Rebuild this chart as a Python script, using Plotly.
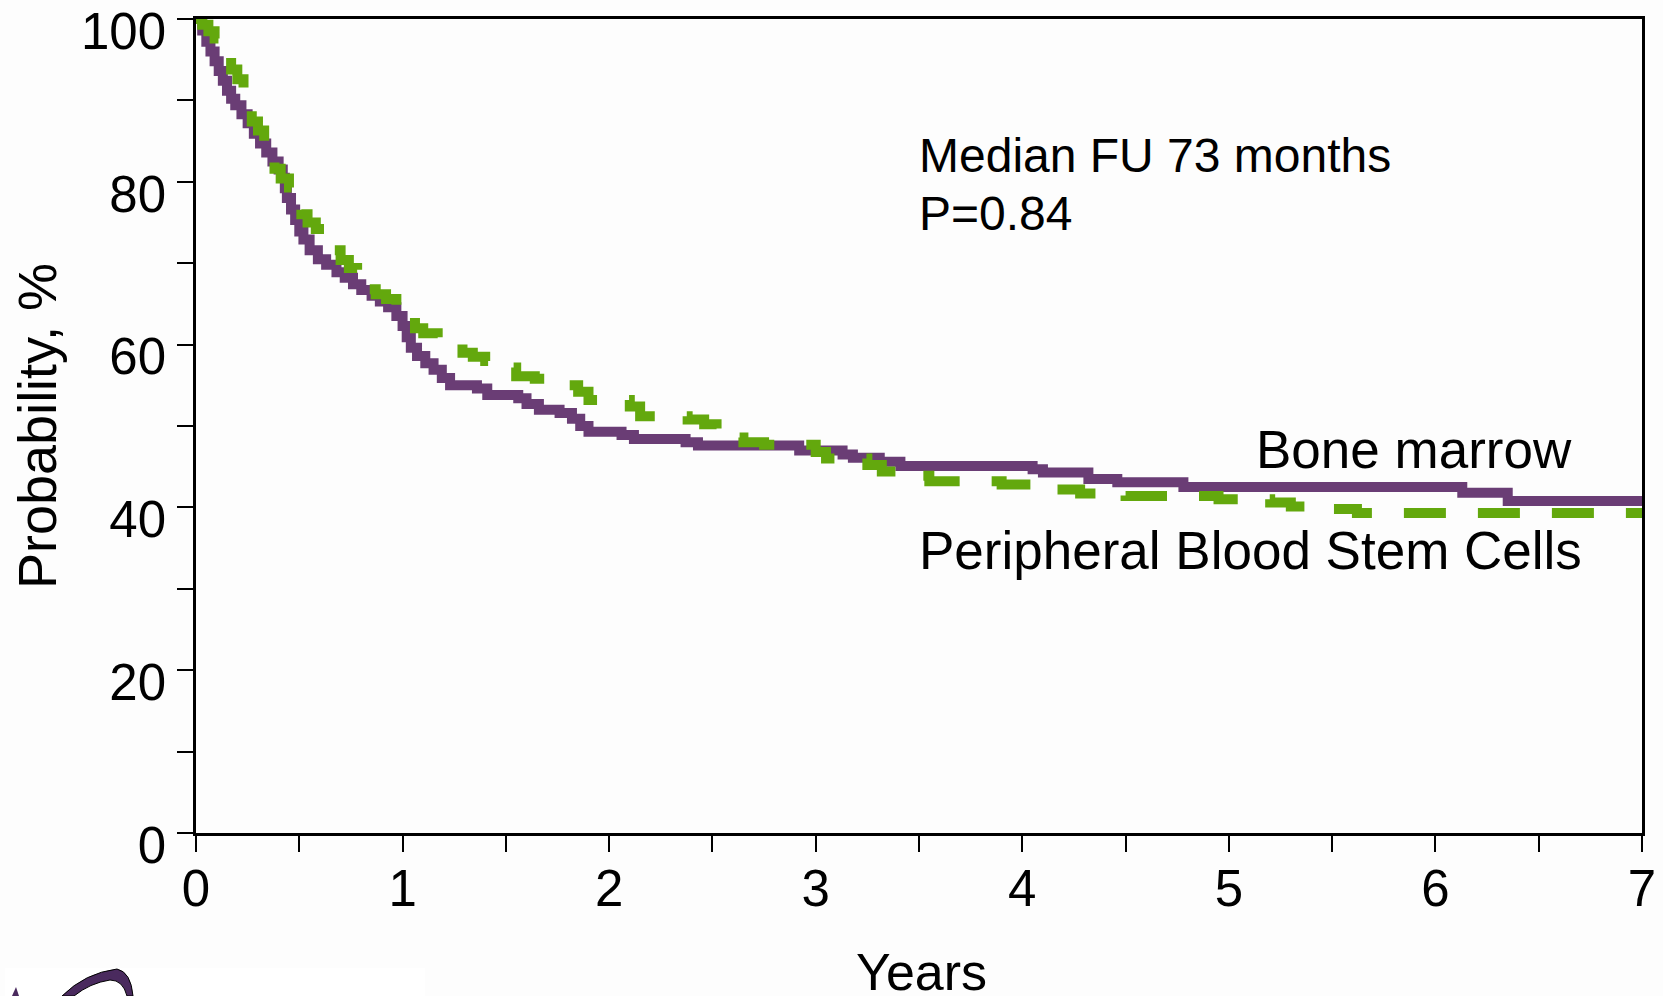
import plotly.graph_objects as go

# Kaplan-Meier estimates (years, survival %)
bm_years = [0, 0.03, 0.05, 0.07, 0.09, 0.11, 0.13, 0.15, 0.17, 0.19, 0.22, 0.25, 0.28, 0.31,
            0.34, 0.37, 0.40, 0.42, 0.43, 0.44, 0.46, 0.48, 0.50, 0.52, 0.55, 0.59, 0.63, 0.68,
            0.72, 0.76, 0.80, 0.85, 0.89, 0.93, 0.97, 1.00, 1.02, 1.04, 1.07, 1.11, 1.15, 1.19,
            1.23, 1.36, 1.41, 1.56, 1.60, 1.66, 1.76, 1.82, 1.86, 1.90, 2.06, 2.12, 2.37, 2.43,
            2.92, 3.13, 3.18, 3.31, 3.41, 4.05, 4.10, 4.32, 4.46, 4.78, 6.13, 6.35, 7.0]
bm_surv = [100, 98.6, 97.2, 96.0, 94.8, 93.6, 92.4, 91.2, 90.2, 89.4, 88.3, 87.2, 85.9, 84.7,
           83.6, 82.5, 81.5, 80.5, 79.2, 78.0, 76.6, 75.3, 73.9, 72.9, 71.6, 70.5, 69.8, 68.9,
           68.2, 67.4, 66.7, 66.0, 65.3, 64.6, 63.5, 62.3, 60.9, 59.6, 58.6, 57.7, 56.9, 55.9,
           55.0, 54.6, 53.8, 53.4, 52.7, 52.0, 51.6, 50.9, 50.0, 49.3, 48.9, 48.4, 48.0, 47.6,
           47.0, 46.5, 46.1, 45.6, 45.1, 44.7, 44.3, 43.5, 43.1, 42.5, 41.8, 40.8, 40.8]

pbsc_years = [0, 0.03, 0.06, 0.09, 0.12, 0.15, 0.17, 0.20, 0.23, 0.25, 0.27, 0.30, 0.33, 0.36,
              0.38, 0.41, 0.45, 0.49, 0.51, 0.54, 0.58, 0.62, 0.66, 0.70, 0.74, 0.78, 0.82,
              0.87, 0.92, 0.97, 1.02, 1.06, 1.10, 1.17, 1.24, 1.29, 1.34, 1.40, 1.45, 1.55,
              1.64, 1.69, 1.85, 1.90, 2.10, 2.15, 2.38, 2.46, 2.52, 2.58, 2.65, 2.75, 3.00,
              3.05, 3.25, 3.32, 3.40, 3.55, 3.90, 4.15, 4.28, 4.50, 4.95, 5.20, 5.30, 5.45,
              5.62, 7.0]
pbsc_surv = [100, 99.3, 98.5, 97.6, 96.6, 95.3, 93.8, 92.6, 91.3, 89.6, 87.4, 86.3, 84.8, 83.3,
             81.6, 80.4, 79.3, 78.4, 76.0, 75.0, 74.2, 73.2, 71.6, 70.4, 69.4, 68.3, 66.8,
             66.2, 65.6, 64.8, 63.6, 62.0, 61.4, 60.8, 60.2, 59.0, 58.5, 58.0, 57.2, 56.1,
             55.8, 55.0, 54.2, 53.2, 52.4, 51.2, 50.8, 50.2, 49.4, 48.6, 48.0, 47.7, 46.8,
             46.0, 45.2, 44.4, 43.9, 43.2, 42.8, 42.2, 41.7, 41.4, 41.0, 40.6, 40.1, 39.8,
             39.3, 39.3]

x_tickvals = [0, 0.5, 1, 1.5, 2, 2.5, 3, 3.5, 4, 4.5, 5, 5.5, 6, 6.5, 7]
x_ticktext = ["0", "", "1", "", "2", "", "3", "", "4", "", "5", "", "6", "", "7"]
y_tickvals = [0, 10, 20, 30, 40, 50, 60, 70, 80, 90, 100]
y_ticktext = ["0", "", "20", "", "40", "", "60", "", "80", "", "100"]

W, H = 1663, 996
L, R, T, B = 196, 21, 19, 163
PW, PH = W - L - R, H - T - B

PURPLE = "#6a3d75"
GREEN = "#63a80d"
FONT = "Liberation Sans, Arial, sans-serif"


def px(x):
    return (x - L) / PW


def py(y):
    return (H - B - y) / PH


fig = go.Figure()
fig.add_trace(go.Scatter(x=bm_years, y=bm_surv, mode="lines", name="Bone marrow",
                         line=dict(color=PURPLE, width=10, shape="hv")))
fig.add_trace(go.Scatter(x=pbsc_years, y=pbsc_surv, mode="lines",
                         name="Peripheral Blood Stem Cells",
                         line=dict(color=GREEN, width=10, shape="hv", dash="42px,32px")))

axis_common = dict(showline=True, linecolor="black", linewidth=2.5, mirror=True,
                   showgrid=False, zeroline=False, ticks="outside", ticklen=16,
                   tickwidth=2, tickcolor="black", ticklabeloverflow="allow",
                   automargin=False,
                   tickfont=dict(family=FONT, size=51, color="black"))

fig.update_xaxes(range=[0, 7], tickmode="array", tickvals=x_tickvals, ticktext=x_ticktext,
                 ticklabelstandoff=-7, **axis_common)
fig.update_yaxes(range=[0, 100], tickmode="array", tickvals=y_tickvals, ticktext=y_ticktext,
                 ticklabelstandoff=1, ticklabelshift=12, **axis_common)

ann_font = dict(family=FONT, size=48, color="black")
lab_font = dict(family=FONT, size=53, color="black")
annotations = [
    dict(text="Median FU 73 months", x=px(917), y=py(155), xanchor="left", yanchor="middle",
         font=ann_font),
    dict(text="P=0.84", x=px(917), y=py(214), xanchor="left", yanchor="middle", font=ann_font),
    dict(text="Bone marrow", x=px(1254), y=py(449), xanchor="left", yanchor="middle",
         font=lab_font),
    dict(text="Peripheral Blood Stem Cells", x=px(917), y=py(550), xanchor="left",
         yanchor="middle", font=lab_font),
    dict(text="Probability, %", x=px(37), y=py(426), xanchor="center", yanchor="middle",
         textangle=-90, font=dict(family=FONT, size=54, color="black")),
    dict(text="Years", x=px(921), y=py(972), xanchor="center", yanchor="middle",
         font=dict(family=FONT, size=52, color="black")),
]
for a in annotations:
    a.update(xref="paper", yref="paper", showarrow=False)

# small logo panel in the lower-left corner
shapes = [
    dict(type="rect", xref="paper", yref="paper", x0=px(5), x1=px(425), y0=py(996), y1=py(968),
         fillcolor="white", line=dict(width=0), layer="below"),
    dict(type="path", xref="paper", yref="paper",
         path=(f"M {px(62)},{py(996)} Q {px(85)},{py(973)} {px(117)},{py(969)} "
               f"Q {px(131)},{py(972)} {px(133)},{py(996)} L {px(127)},{py(996)} "
               f"Q {px(123)},{py(980)} {px(110)},{py(980)} Q {px(90)},{py(983)} {px(74)},{py(996)} Z"),
         fillcolor="#4a2a5e", line=dict(color="black", width=1)),
    dict(type="path", xref="paper", yref="paper",
         path=f"M {px(12)},{py(996)} L {px(16)},{py(987)} L {px(19)},{py(996)} Z",
         fillcolor="#4a2a5e", line=dict(width=0)),
]

fig.update_layout(width=W, height=H, margin=dict(l=L, r=R, t=T, b=B, pad=0),
                  paper_bgcolor="#fdfdfd", plot_bgcolor="#fdfdfd", showlegend=False,
                  annotations=annotations, shapes=shapes,
                  font=dict(family=FONT, color="black"))

fig.write_html("out.html")
